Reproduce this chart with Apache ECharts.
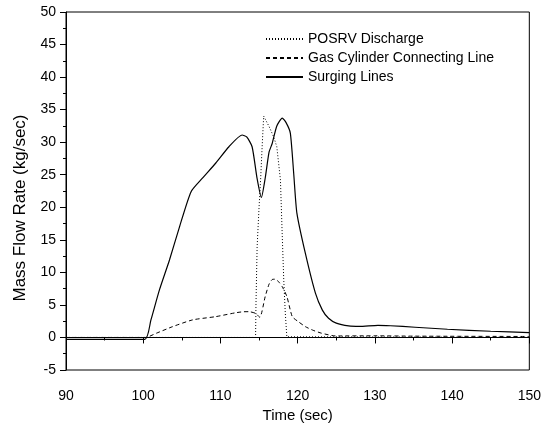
<!DOCTYPE html>
<html>
<head>
<meta charset="utf-8">
<script src="https://cdn.jsdelivr.net/npm/echarts@6/dist/echarts.min.js"></script>
<style>
  html, body { margin: 0; padding: 0; background: #fff; }
  #main { width: 544px; height: 430px; }
</style>
</head>
<body>
<div id="main"></div>
<script>
// 讀圖估計的數據 [時間(sec), 流量(kg/sec)]
const posrvDischarge = [
    [90, 0], [114.55, 0], [114.6, 5], [114.75, 13.9], [115.0, 20], [115.2, 24.2],
    [115.4, 29.3], [115.6, 34.0], [116.3, 32.4], [116.9, 30.8], [117.3, 29.3],
    [117.77, 24.2], [117.98, 16.5], [118.2, 8.8], [118.4, 3.7], [118.6, 0.1], [150, 0]
];

const gasCylinderLine = [
    [90, 0], [100.3, 0], [101.7, 0.65], [103.8, 1.66], [106.4, 2.7], [109.4, 3.2],
    [112.0, 3.8], [113.0, 3.95], [113.7, 3.96], [114.55, 3.7], [115.1, 3.1],
    [115.8, 6.3], [116.3, 8.2], [116.7, 8.9], [117.1, 8.95], [117.5, 8.6], [118.0, 7.8],
    [118.6, 6.3], [119.3, 3.2], [120, 2.5], [121.0, 1.66], [122, 1.1], [123.1, 0.65],
    [124.9, 0.23], [130, 0.25], [135, 0.2], [150, 0.15]
];

const surgingLines = [
    [90, -0.3], [100.2, -0.3], [101.0, 2.7], [102.1, 7.3], [103.4, 11.9], [104.7, 17.0],
    [106.2, 22.4], [107.7, 24.5], [109.4, 26.8], [111.1, 29.3], [112.8, 31.1],
    [113.4, 30.8], [114.1, 29.3], [114.75, 24.4], [115.3, 21.5], [115.8, 24.5],
    [116.3, 28.5], [116.7, 29.8], [117.3, 32.5], [118.0, 33.7], [118.5, 33.0],
    [119.05, 31.4], [119.5, 25], [119.9, 19.1], [121.0, 12.9], [122.3, 6.8],
    [123.2, 4.2], [124.0, 2.95], [125, 2.2], [126.6, 1.77], [128, 1.7], [130.4, 1.87],
    [132, 1.8], [135.2, 1.57], [139.4, 1.26], [145, 0.95], [150, 0.75]
];

const seriesNames = ['POSRV Discharge', 'Gas Cylinder Connecting Line', 'Surging Lines'];

const myChart = echarts.init(document.getElementById('main'));

const font = 'Liberation Sans, Arial, sans-serif';

const option = {
    animation: false,
    backgroundColor: '#fff',
    grid: {
        left: 66, right: 12, top: 12, bottom: 60,
        show: true, borderColor: '#000', borderWidth: 1
    },
    legend: {
        data: seriesNames,
        orient: 'vertical',
        left: 260,
        top: 27,
        itemWidth: 37,
        itemHeight: 14,
        itemGap: 5,
        itemStyle: { opacity: 0 },
        textStyle: { fontFamily: font, fontSize: 14, color: '#000' }
    },
    xAxis: {
        type: 'value',
        min: 90, max: 150, interval: 10,
        name: 'Time (sec)',
        nameLocation: 'middle',
        nameGap: 34,
        nameTextStyle: { fontFamily: font, fontSize: 15, color: '#000' },
        axisLine: { lineStyle: { color: '#000', width: 1 } },
        axisTick: { inside: false, length: 6, lineStyle: { color: '#000' } },
        minorTick: { show: true, splitNumber: 2, length: 3, lineStyle: { color: '#000' } },
        axisLabel: { fontFamily: font, fontSize: 14, color: '#000', margin: 19 },
        splitLine: { show: false }
    },
    yAxis: {
        type: 'value',
        min: -5, max: 50, interval: 5,
        name: 'Mass Flow Rate (kg/sec)',
        nameLocation: 'middle',
        nameGap: 37,
        nameTextStyle: { fontFamily: font, fontSize: 17, color: '#000', padding: [0, 34, 0, 0] },
        axisLine: { show: true, lineStyle: { color: '#000', width: 1 } },
        axisTick: { show: true, inside: false, length: 6, lineStyle: { color: '#000' } },
        minorTick: { show: true, splitNumber: 2, length: 3, lineStyle: { color: '#000' } },
        axisLabel: { fontFamily: font, fontSize: 14, color: '#000', margin: 10 },
        splitLine: { show: false }
    },
    series: [
        {
            name: seriesNames[0],
            type: 'line',
            data: posrvDischarge,
            symbol: 'none',
            lineStyle: { color: '#000', width: 1, type: [1, 2] },
            itemStyle: { color: '#000' }
        },
        {
            name: seriesNames[1],
            type: 'line',
            data: gasCylinderLine,
            symbol: 'none',
            smooth: 0.2,
            lineStyle: { color: '#000', width: 1, type: [4, 3] },
            itemStyle: { color: '#000' }
        },
        {
            name: seriesNames[2],
            type: 'line',
            data: surgingLines,
            symbol: 'none',
            smooth: 0.2,
            lineStyle: { color: '#000', width: 1.2, type: 'solid' },
            itemStyle: { color: '#000' }
        }
    ]
};

myChart.setOption(option);
</script>
</body>
</html>
